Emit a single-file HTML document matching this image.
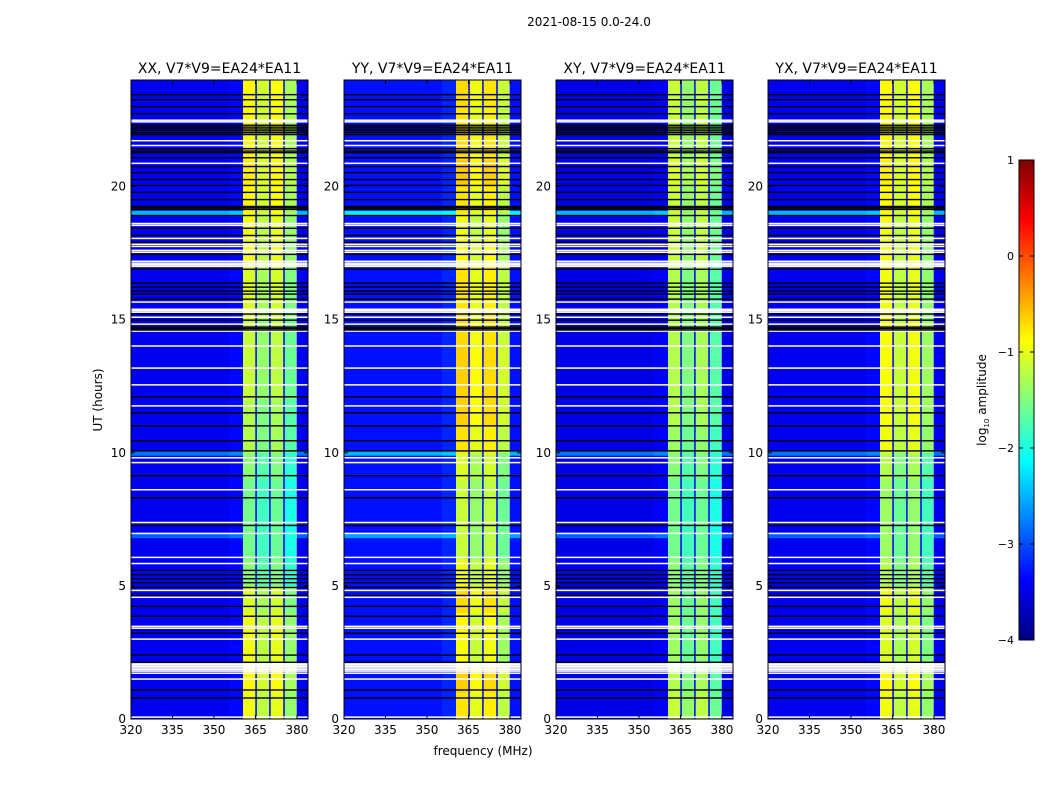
<!DOCTYPE html>
<html><head><meta charset="utf-8"><style>
body{margin:0;background:#fff;}
svg text{font-family:"DejaVu Sans","Liberation Sans",sans-serif;fill:#000;}
</style></head><body>
<svg id="fig" xmlns="http://www.w3.org/2000/svg" width="1050" height="800" viewBox="0 0 1050 800">
<rect width="1050" height="800" fill="#fff"/>
<text x="589" y="26" font-size="12" text-anchor="middle">2021-08-15 0.0-24.0</text>
<text x="483" y="755" font-size="12" text-anchor="middle">frequency (MHz)</text>
<text transform="translate(102,400) rotate(-90)" font-size="12" text-anchor="middle">UT (hours)</text>
<g id="panels"></g>
<g id="cbar"></g>
<text transform="translate(986,400) rotate(-90)" font-size="12" text-anchor="middle">log<tspan font-size="7" dy="3">10</tspan><tspan dy="-3"> amplitude</tspan></text>
</svg>
<script>
const panelNames = ["XX","YY","XY","YX"];
const hourBins = [0,1,2,3,4,5,6,7,8,9,10,11,12,13,14,15,16,17,18,19,20,21,22,23];
const bandXX = [-1.0,-0.9,-1.0,-1.0,-1.1,-1.5,-1.6,-1.6,-1.6,-1.5,-1.3,-1.3,-1.2,-1.2,-1.2,-1.1,-1.1,-1.0,-1.0,-0.9,-0.85,-0.9,-0.9,-0.9];
const bandYY = [-0.8,-0.7,-0.95,-0.9,-0.75,-1.0,-1.2,-1.2,-1.2,-1.1,-0.8,-0.7,-0.7,-0.7,-0.75,-0.8,-0.8,-0.9,-1.0,-0.8,-0.65,-0.75,-0.8,-0.75];
const bandXY = [-1.2,-1.3,-1.4,-1.4,-1.4,-1.5,-1.6,-1.6,-1.6,-1.5,-1.4,-1.3,-1.3,-1.3,-1.3,-1.3,-1.3,-1.2,-1.2,-1.2,-1.1,-1.2,-1.2,-1.2];
const bandYX = [-1.0,-0.9,-1.1,-1.1,-1.0,-1.3,-1.4,-1.4,-1.4,-1.3,-1.0,-0.95,-0.95,-0.95,-0.95,-1.0,-1.0,-1.0,-1.0,-0.9,-0.85,-0.9,-0.9,-0.9];
const bgLevels = [-3.45,-3.3,-3.5,-3.45];
const subBandEdges = [360.5,365.2,370.2,375.3,379.9];
const subBandOffsets = [0.05,-0.2,0.0,-0.4];
const separatorLevel = -3.4;
const brightRowHours = [19.0,10.0,6.9];
const brightRowLevels = [-2.5,-2.8,-2.9];
const whiteRows = [22.49,22.43,21.72,21.54,20.87,18.61,18.54,18.05,17.83,17.75,17.60,17.53,17.0,17.06,17.12,17.19,15.66,15.28,15.34,15.39,15.09,14.83,14.57,14.01,13.18,12.55,11.76,9.81,9.63,8.61,7.38,6.97,6.07,5.84,4.83,4.57,3.48,3.41,3.0,1.8,1.86,1.92,1.98,2.04,2.1,1.72,1.5,0.07];
const blackRows = [23.45,23.26,23.0,22.73,21.95,22.02,22.09,22.16,22.23,22.3,21.42,21.27,21.33,21.08,20.75,20.52,20.26,20.04,19.78,19.51,19.14,19.2,19.25,18.91,18.43,18.16,17.9,17.45,16.89,16.37,16.22,16.07,15.96,15.77,15.21,14.98,14.61,14.67,14.72,12.1,11.5,11.01,10.45,10.07,9.14,8.31,7.27,5.58,5.42,5.27,5.12,4.94,4.64,4.23,3.86,3.22,2.4,2.13,1.09,0.79];
const xTicks = [320,335,350,365,380];
const yTicks = [0,5,10,15,20];
const cbTicks = [1,0,-1,-2,-3,-4];
const cbLabels = ["1","0","\u22121","\u22122","\u22123","\u22124"];

const NS="http://www.w3.org/2000/svg";
const panelLefts=[131,344,556,768];
const PW=177, PT=80, PB=719, FMIN=320, FMAX=384, HMAX=24;
const VMIN=-4, VMAX=1;
function clamp(v){return Math.max(0,Math.min(1,v));}
function jet(v){const t=clamp((v-VMIN)/(VMAX-VMIN));
 const r=clamp(1.5-Math.abs(4*t-3)),g=clamp(1.5-Math.abs(4*t-2)),b=clamp(1.5-Math.abs(4*t-1));
 return `rgb(${Math.round(r*255)},${Math.round(g*255)},${Math.round(b*255)})`;}
function mk(tag,attrs,parent){const e=document.createElementNS(NS,tag);for(const k in attrs)e.setAttribute(k,attrs[k]);parent.appendChild(e);return e;}
const bands=[bandXX,bandYY,bandXY,bandYX];
const panelsG=document.getElementById('panels');
panelNames.forEach((nm,p)=>{
 const L=panelLefts[p];
 const xs=f=>L+(f-FMIN)/(FMAX-FMIN)*PW;
 const ys=h=>PB-h/HMAX*(PB-PT);
 const g=mk('g',{},panelsG);
 
 
 const step=0.1;
 for(let i=0;i<240;i++){
  const h0=i*step,h1=h0+step;
  const y0=ys(h1),y1=ys(h0);
  let bg=bgLevels[p];
  brightRowHours.forEach((bh,k)=>{if(bh>=h0-0.05&&bh<h1+0.05)bg=Math.max(bg,brightRowLevels[k]+(p===1?0.3:0));});
  const lvl=bands[p][hourBins[Math.min(23,Math.floor(h0))]];
  const segs=[[FMIN,subBandEdges[0]-5,bg],[subBandEdges[0]-5,subBandEdges[0],bg+0.1],[subBandEdges[4],FMAX,bg]];
  for(let s=0;s<4;s++){
   segs.push([subBandEdges[s]+(s?0.3:0),subBandEdges[s+1]-0.25,lvl+subBandOffsets[s]]);
   if(s<3){segs.push([subBandEdges[s+1]-0.25,subBandEdges[s+1]+0.3,separatorLevel]);}
  }
  segs.forEach(sg=>{
   const r=mk('rect',{x:xs(sg[0]).toFixed(2),y:y0.toFixed(2),width:(xs(sg[1])-xs(sg[0])+0.3).toFixed(2),height:(y1-y0+0.3).toFixed(2),fill:jet(sg[2])},g);
   
   
  });
 }
 whiteRows.forEach(h=>{const r=mk('rect',{x:L,y:(ys(h)-0.75).toFixed(2),width:PW,height:1.5,fill:'#fff'},g);
  
  });
 blackRows.forEach(h=>{const r=mk('rect',{x:L,y:(ys(h)-0.7).toFixed(2),width:PW,height:1.4,fill:'#000'},g);
  
  });
 const fr=mk('rect',{x:L,y:PT,width:PW,height:PB-PT,fill:'none',stroke:'#000','stroke-width':1},g);
 
 
 const t=mk('text',{x:L+PW/2,y:73,'font-size':14,'text-anchor':'middle'},g);
 t.textContent=nm+', V7*V9=EA24*EA11';
 
 
 xTicks.forEach(v=>{const x=xs(v);
  mk('line',{x1:x,x2:x,y1:PB,y2:PB-4,stroke:'#000'},g);mk('line',{x1:x,x2:x,y1:PT,y2:PT+4,stroke:'#000'},g);
  const tt=mk('text',{x:x,y:PB+15,'font-size':12,'text-anchor':'middle'},g);tt.textContent=v;
  
  });
 yTicks.forEach(v=>{const y=ys(v);
  mk('line',{x1:L,x2:L+4,y1:y,y2:y,stroke:'#000'},g);mk('line',{x1:L+PW,x2:L+PW-4,y1:y,y2:y,stroke:'#000'},g);
  const tt=mk('text',{x:L-5,y:y+4,'font-size':12,'text-anchor':'end'},g);tt.textContent=v;
  
  });
});
// colorbar
const cb=document.getElementById('cbar');
const CX=1019,CW=15,CT=160,CBm=640;
const cy=v=>CBm-(v-VMIN)/(VMAX-VMIN)*(CBm-CT);
for(let i=0;i<240;i++){const v0=VMIN+i*(VMAX-VMIN)/240,v1=v0+(VMAX-VMIN)/240;
 const r=mk('rect',{x:CX,y:cy(v1).toFixed(2),width:CW,height:(cy(v0)-cy(v1)+0.4).toFixed(2),fill:jet((v0+v1)/2)},cb);
 
 }
mk('rect',{x:CX,y:CT,width:CW,height:CBm-CT,fill:'none',stroke:'#000'},cb);
cbTicks.forEach((v,i)=>{const y=cy(v);
 mk('line',{x1:CX,x2:CX+4,y1:y,y2:y,stroke:'#000'},cb);mk('line',{x1:CX+CW,x2:CX+CW-4,y1:y,y2:y,stroke:'#000'},cb);
 const tt=mk('text',{x:CX-5,y:y+4,'font-size':11,'text-anchor':'end'},cb);tt.textContent=cbLabels[i];
 
 });
</script>
</body></html>
